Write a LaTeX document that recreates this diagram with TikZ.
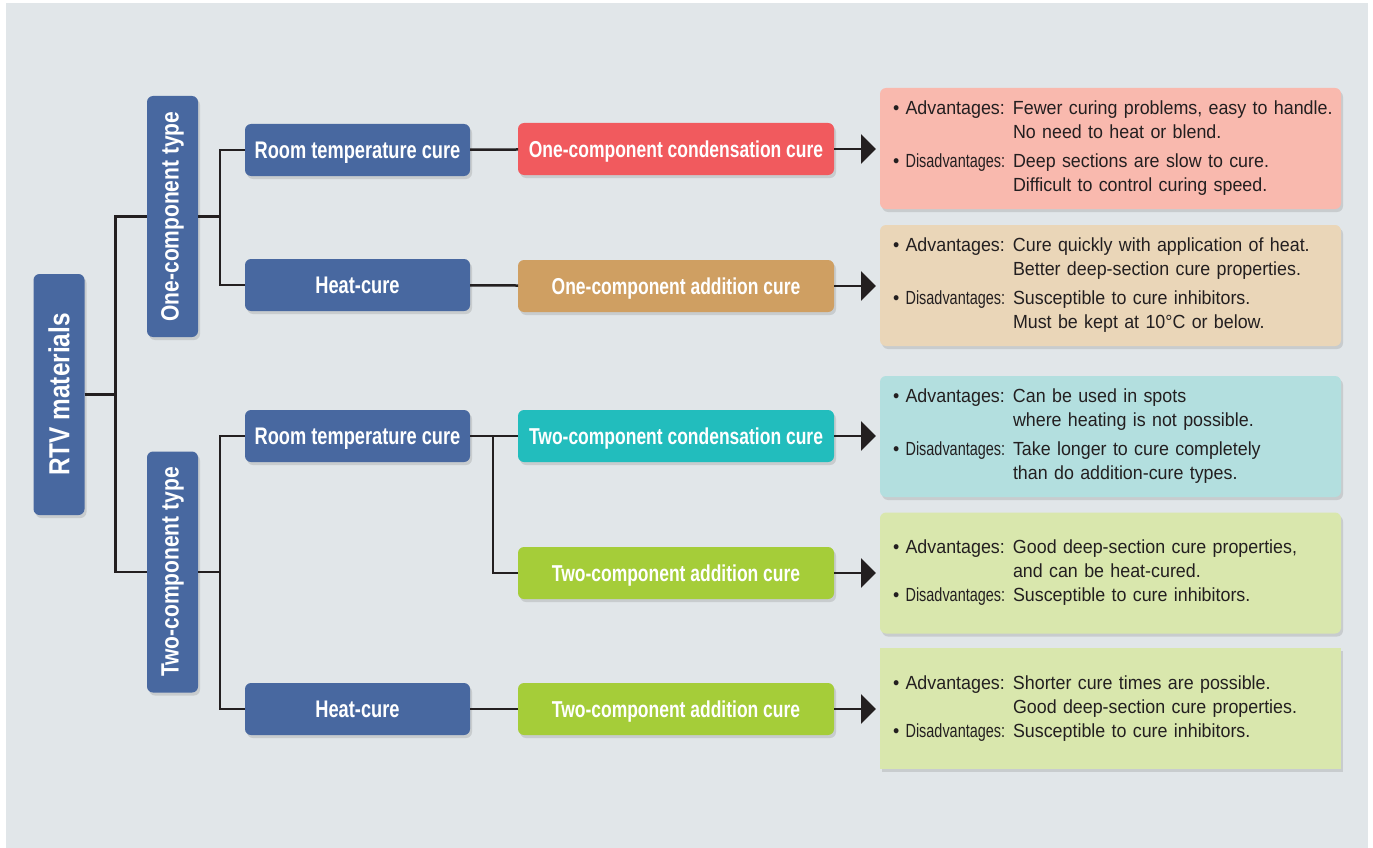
\documentclass[tikz,border=0pt]{standalone}
\usepackage{fontspec}
\setmainfont{Liberation Sans}[FakeStretch=0.94]
\newfontfamily\condfont{Liberation Sans}[FakeStretch=0.76]
\newfontfamily\typefont{Liberation Sans}[FakeStretch=0.84]
\usetikzlibrary{arrows.meta,shadows}

\definecolor{bgcol}{HTML}{E1E6E9}
\definecolor{txtcol}{HTML}{231F20}
\definecolor{bluecol}{HTML}{4868A0}
\definecolor{redcol}{HTML}{F15A5E}
\definecolor{tancol}{HTML}{CF9F62}
\definecolor{tealcol}{HTML}{22BDBD}
\definecolor{greencol}{HTML}{A5CD39}
\definecolor{pinklt}{HTML}{F9B9AE}
\definecolor{tanlt}{HTML}{EAD6B8}
\definecolor{teallt}{HTML}{B3DFDF}
\definecolor{greenlt}{HTML}{D9E7AD}

\newcommand{\advline}[1]{\mbox{\makebox[120pt][l]{\textbullet\ Advantages:}#1}}
\newcommand{\disline}[1]{\mbox{\makebox[120pt][l]{\textbullet\ {\condfont Disadvantages:}}#1}}
\newcommand{\contline}[1]{\mbox{\hspace*{120pt}#1}}

\begin{document}
\begin{tikzpicture}[x=1pt,y=-1pt,
    every node/.style={inner sep=0pt, outer sep=0pt},
    boxbase/.style={rounded corners=6pt, drop shadow={opacity=.25, shadow xshift=2pt, shadow yshift=-3pt}},
    headbox/.style={boxbase, fill=bluecol, text=white, text depth=0pt, font=\condfont\bfseries\fontsize{24}{28}\selectfont},
    typebox/.style={headbox, minimum width=51pt, minimum height=241pt, font=\typefont\bfseries\fontsize{25}{30}\selectfont},
    blubox/.style={headbox, minimum width=225pt, minimum height=52pt},
    curebox/.style={headbox, fill=#1, minimum width=316pt, minimum height=52pt, font=\condfont\bfseries\fontsize{23}{28}\selectfont},
    infobox/.style={boxbase, fill=#1, minimum width=461pt, minimum height=121pt, text width=435pt,
        inner xsep=13pt, align=left, text=txtcol, font=\fontsize{19}{24}\selectfont},
    link/.style={draw=txtcol, line width=2.5pt},
    arrowlink/.style={link, -{Triangle[length=15pt, width=29pt]}, shorten >=4pt}]
\useasboundingbox (0,0) rectangle (1373,848);
\fill[bgcol] (6,3) rectangle (1368,848);

% left column
\node[typebox, font=\typefont\bfseries\fontsize{29}{34}\selectfont] (rtv) at (59,394.5) {\rotatebox{90}{RTV materials}};
\node[typebox] (one) at (172.5,216.5) {\rotatebox{90}{One-component type}};
\node[typebox] (two) at (172.5,572) {\rotatebox{90}{Two-component type}};

% cure types
\node[blubox] (rt1) at (357.5,150) {Room temperature cure};
\node[blubox] (hc1) at (357.5,285) {Heat-cure};
\node[blubox] (rt2) at (357.5,436) {Room temperature cure};
\node[blubox] (hc2) at (357.5,709) {Heat-cure};

% cure systems
\node[curebox=redcol] (cc1) at (676,149) {One-component condensation cure};
\node[curebox=tancol] (ac1) at (676,286) {One-component addition cure};
\node[curebox=tealcol] (cc2) at (676,436) {Two-component condensation cure};
\node[curebox=greencol] (ac2) at (676,573) {Two-component addition cure};
\node[curebox=greencol] (ac3) at (676,709) {Two-component addition cure};

% notes
\node[infobox=pinklt] (inf1) at (1110.5,148.5) {%
  \advline{Fewer curing problems, easy to handle.}\\
  \contline{No need to heat or blend.}\\[5pt]
  \disline{Deep sections are slow to cure.}\\
  \contline{Difficult to control curing speed.}};
\node[infobox=tanlt] (inf2) at (1110.5,285.5) {%
  \advline{Cure quickly with application of heat.}\\
  \contline{Better deep-section cure properties.}\\[5pt]
  \disline{Susceptible to cure inhibitors.}\\
  \contline{Must be kept at 10°C or below.}};
\node[infobox=teallt] (inf3) at (1110.5,436.5) {%
  \advline{Can be used in spots}\\
  \contline{where heating is not possible.}\\[5pt]
  \disline{Take longer to cure completely}\\
  \contline{than do addition-cure types.}};
\node[infobox=greenlt] (inf4) at (1110.5,573) {%
  \advline{Good deep-section cure properties,}\\
  \contline{and can be heat-cured.}\\
  \disline{Susceptible to cure inhibitors.}};
\node[infobox=greenlt, rounded corners=0pt] (inf5) at (1110.5,708.5) {%
  \advline{Shorter cure times are possible.}\\
  \contline{Good deep-section cure properties.}\\
  \disline{Susceptible to cure inhibitors.}};

% tree lines
\draw[link] (rtv.east) -- ++(31,0) |- (one.west);
\draw[link] (rtv.east) -- ++(31,0) |- (two.west);
\draw[link] (one.east) -- ++(22,0) |- (rt1.west);
\draw[link] (one.east) -- ++(22,0) |- (hc1.west);
\draw[link] (two.east) -- ++(22,0) |- (rt2.west);
\draw[link] (two.east) -- ++(22,0) |- (hc2.west);
\draw[link] (rt1) -- (cc1);
\draw[link] (hc1) -- (ac1);
\draw[link] (rt2) -- (cc2);
\draw[link] (rt2.east) -- ++(23,0) |- (ac2.west);
\draw[link] (hc2) -- (ac3);

% arrows to notes
\draw[arrowlink] (cc1.east) -- (cc1.east -| inf1.west);
\draw[arrowlink] (ac1.east) -- (ac1.east -| inf2.west);
\draw[arrowlink] (cc2.east) -- (cc2.east -| inf3.west);
\draw[arrowlink] (ac2.east) -- (ac2.east -| inf4.west);
\draw[arrowlink] (ac3.east) -- (ac3.east -| inf5.west);
\end{tikzpicture}
\end{document}
